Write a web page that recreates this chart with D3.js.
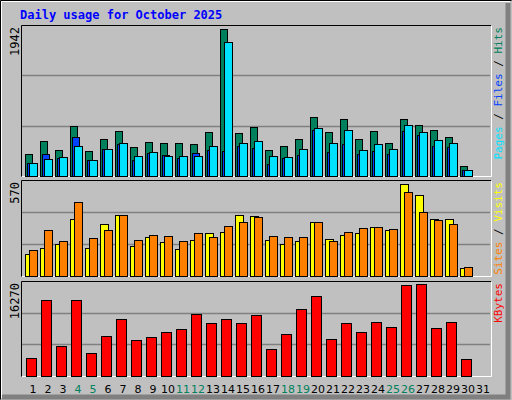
<!DOCTYPE html>
<html><head><meta charset="utf-8">
<script src="https://cdn.jsdelivr.net/npm/d3@7"></script>
<style>body{margin:0;background:#fff}</style>
</head><body><div id="chart"></div>
<script>
// daily data, October 2025
let days = d3.range(1, 32);
let weekends = [4, 5, 11, 12, 18, 19, 25, 26];
let hits = [294,465,347,663,333,492,597,386,452,439,439,426,584,1942,571,650,347,399,492,782,584,755,492,597,439,755,676,610,518,136,0];
let files = [167,294,233,518,215,360,426,215,307,281,241,307,347,333,399,373,162,241,281,610,320,426,294,333,294,597,544,399,386,83,0];
let pages = [175,228,254,399,215,360,439,268,320,268,268,268,399,1770,439,465,268,254,360,637,439,610,347,426,360,676,584,478,439,83,0];
let sites = [136,173,198,353,173,322,378,186,242,211,167,223,266,273,378,372,223,198,217,335,229,254,266,304,285,570,502,353,353,50,0];
let visits = [161,285,217,458,235,285,378,223,254,248,217,266,242,310,335,366,248,242,242,335,217,273,297,304,291,520,396,347,322,56,0];
let kbytes = [3267,13424,5405,13424,4158,7187,10039,6475,7009,7722,8257,10930,9326,10039,9326,10751,4871,7366,11821,14137,6653,9326,7722,9504,8613,16097,16270,8435,9504,3089,0];
let maxLabels = ["1942", "570", "16270"];

let width = 512, height = 400;
let svg = d3.select('#chart').append('svg')
  .attr('width', width).attr('height', height)
  .style('font-family', 'DejaVu Sans Mono');

// 3d frame
svg.append('rect').attr('width', width).attr('height', height).attr('fill', '#c0c0c0');
svg.append('path').attr('d', 'M0.5,399.5 V0.5 H511.5').attr('stroke', '#000').attr('fill', 'none');
svg.append('path').attr('d', 'M1.5,398 V1.5 H510').attr('stroke', '#fff').attr('fill', 'none');
svg.append('path').attr('d', 'M2,397 H508 V3').attr('stroke', '#808080').attr('stroke-width', 5).attr('fill', 'none');

svg.append('text').attr('x', 20).attr('y', 19)
  .attr('fill', '#0000ff').attr('font-weight', 'bold').attr('font-size', 12)
  .text('Daily usage for October 2025');

let x = d3.scaleLinear().domain([1, 32]).range([25, 25 + 31 * 15]);

let panels = [
  {top: 25, bottom: 176, max: 1942 / 0.975, label: maxLabels[0],
   series: [{v: hits, dx: 0, w: 7, c: '#00805c'}, {v: files, dx: 2, w: 7, c: '#0040ff'}, {v: pages, dx: 4, w: 8, c: '#00e0ff'}],
   legend: [['Pages', '#00e0ff'], [' / ', '#000'], ['Files', '#0040ff'], [' / ', '#000'], ['Hits', '#00805c']]},
  {top: 180, bottom: 276, max: 570 / 0.955, label: maxLabels[1],
   series: [{v: sites, dx: 0, w: 8, c: '#ffff00'}, {v: visits, dx: 4, w: 8, c: '#ff8000'}],
   legend: [['Sites', '#ff8000'], [' / ', '#000'], ['Visits', '#ffff00']]},
  {top: 281, bottom: 376, max: 16270 / 0.965, label: maxLabels[2],
   series: [{v: kbytes, dx: 1, w: 10, c: '#ff0000'}],
   legend: [['KBytes', '#ff0000']]}
];

panels.forEach(p => {
  let y = d3.scaleLinear().domain([0, p.max]).range([p.bottom, p.top]);
  svg.append('rect').attr('x', 21).attr('y', p.top).attr('width', 470).attr('height', p.bottom - p.top)
    .attr('fill', '#c0c0c0');
  [1, 2].forEach(k => {
    let gy = Math.round(p.bottom - (p.bottom - p.top) * k / 3) + 0.5;
    svg.append('line').attr('x1', 22).attr('x2', 490).attr('y1', gy).attr('y2', gy)
      .attr('stroke', '#808080').attr('stroke-width', 1.5);
  });
  svg.append('path').attr('d', `M21.5,${p.bottom + 0.5} V${p.top + 0.5} H491`).attr('stroke', '#000').attr('fill', 'none');
  svg.append('path').attr('d', `M22,${p.bottom + 0.5} H491.5 V${p.top + 1}`).attr('stroke', '#fff').attr('fill', 'none');

  p.series.forEach(s => {
    svg.append('g').selectAll('rect')
      .data(s.v.map((v, i) => ({d: days[i], v})).filter(o => o.v > 0))
      .enter().append('rect')
      .attr('x', o => x(o.d) + s.dx + 0.5)
      .attr('y', o => Math.round(y(o.v)) + 0.5)
      .attr('width', s.w)
      .attr('height', o => p.bottom - Math.round(y(o.v)))
      .attr('fill', s.c).attr('stroke', '#000');
  });

  svg.append('text').attr('transform', `translate(19,${p.top + 2}) rotate(-90)`)
    .attr('text-anchor', 'end').attr('font-size', 12).attr('fill', '#000').text(p.label);

  let t = svg.append('text').attr('transform', `translate(502,${p.top + 2}) rotate(-90)`)
    .attr('text-anchor', 'end').attr('font-size', 11).attr('font-family', 'DejaVu Sans Mono');
  p.legend.forEach(l => t.append('tspan').attr('fill', l[1]).text(l[0]));
});

svg.append('g').selectAll('text').data(days).enter().append('text')
  .attr('x', d => x(d) + 8).attr('y', 393)
  .attr('text-anchor', 'middle').attr('font-size', 11).attr('font-family', 'DejaVu Sans')
  .attr('fill', d => weekends.includes(d) ? '#00805c' : '#000')
  .text(d => d);
</script></body></html>
